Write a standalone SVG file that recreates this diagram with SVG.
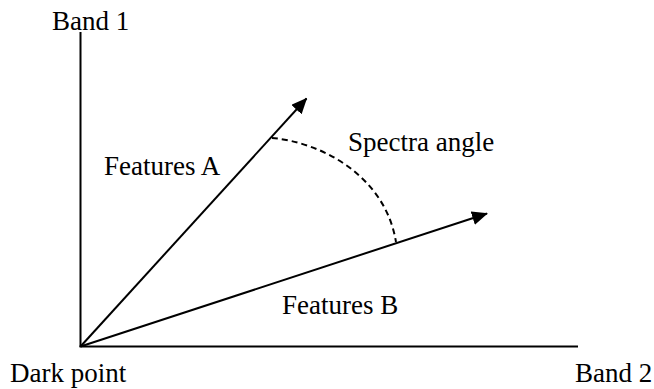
<svg xmlns="http://www.w3.org/2000/svg" width="654" height="389" viewBox="0 0 654 389">
<style>
text{font-family:"Liberation Serif","Times New Roman",serif;font-size:27px;fill:#000}
.ln{stroke:#000;stroke-width:2;fill:none}
.dash{stroke:#000;stroke-width:2;fill:none;stroke-dasharray:6 4}
</style>
<defs>
<marker id="ah" markerWidth="16" markerHeight="14" viewBox="0 0 16 14" refX="15" refY="7" orient="auto" markerUnits="userSpaceOnUse">
<path d="M0,0 L16,7 L0,14 Z" fill="#000"/>
</marker>
</defs>
<rect width="654" height="389" fill="#fff"/>
<g id="connectors">
<line id="axis1" class="ln" x1="80.5" y1="32" x2="80.5" y2="347"/>
<line id="axis2" class="ln" x1="79.5" y1="346.5" x2="578" y2="346.5"/>
<line id="vecA" class="ln" x1="80.5" y1="346.5" x2="306.5" y2="98.5" marker-end="url(#ah)"/>
<line id="vecB" class="ln" x1="80.5" y1="346.5" x2="487" y2="213.5" marker-end="url(#ah)"/>
<path id="angle" class="dash" d="M272,138 C320,142 385,175 396,242"/>
</g>
<g id="band1"><text x="52" y="30">Band 1</text></g>
<g id="band2"><text x="575" y="382">Band 2</text></g>
<g id="darkpoint"><text x="10" y="382">Dark point</text></g>
<g id="featuresA"><text x="104" y="175">Features A</text></g>
<g id="featuresB"><text x="282" y="314">Features B</text></g>
<g id="spectra"><text x="348" y="151">Spectra angle</text></g>
</svg>
